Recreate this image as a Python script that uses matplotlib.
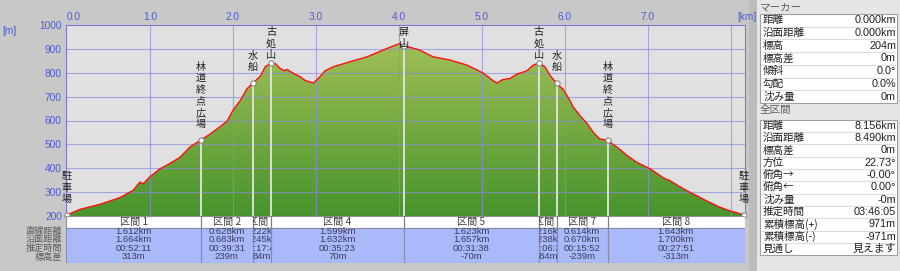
import numpy as np
import matplotlib
matplotlib.use("Agg")
import matplotlib.pyplot as plt
from matplotlib.colors import LinearSegmentedColormap
from matplotlib.patches import Rectangle
from matplotlib.transforms import Bbox, TransformedBbox

JP = ["Noto Sans CJK JP", "DejaVu Sans"]
NUM = ["Liberation Sans", "DejaVu Sans"]
BLUE = "#4b5bd6"

# elevation profile (horizontal distance km, elevation m)
dist_km = [0.00, 0.16, 0.40, 0.64, 0.80, 0.88, 0.92, 1.00, 1.12, 1.24, 1.36, 1.48,
           1.61, 1.73, 1.85, 1.93, 2.00, 2.09, 2.17, 2.24, 2.33, 2.39, 2.46, 2.51,
           2.57, 2.62, 2.65, 2.73, 2.81, 2.87, 2.97, 3.03, 3.11, 3.21, 3.41, 3.62,
           3.81, 3.93, 4.01, 4.06, 4.13, 4.25, 4.41, 4.62, 4.82, 5.01, 5.13, 5.18,
           5.25, 5.34, 5.42, 5.54, 5.62, 5.68, 5.76, 5.82, 5.90, 5.98, 6.06, 6.10,
           6.18, 6.27, 6.34, 6.42, 6.51, 6.63, 6.75, 6.87, 7.03, 7.19, 7.27, 7.42,
           7.63, 7.83, 7.99, 8.07, 8.16]
elev_m = [204, 228, 249, 277, 308, 342, 335, 364, 397, 420, 445, 488,
          517, 544, 575, 597, 642, 684, 733, 756, 785, 825, 840, 839,
          818, 808, 814, 797, 783, 768, 757, 776, 808, 825, 846, 867,
          895, 912, 922, 912, 907, 895, 867, 853, 832, 800, 768, 757,
          771, 776, 794, 808, 832, 840, 825, 789, 756, 730, 684, 656,
          621, 586, 551, 523, 517, 488, 453, 424, 397, 359, 347, 315,
          277, 242, 221, 214, 204]

# waypoints
point_names = ["駐車場", "林道終点広場", "水船", "古処山", "屏山", "古処山", "水船", "林道終点広場", "駐車場"]
point_elev = [204, 517, 756, 840, 910, 840, 756, 517, 204]

# sections
seg_labels = ["区間 1", "区間 2", "区間 3", "区間 4", "区間 5", "区間 6", "区間 7", "区間 8"]
seg_straight = [1.612, 0.628, 0.222, 1.599, 1.623, 0.216, 0.614, 1.643]
seg_surface = [1.664, 0.683, 0.245, 1.632, 1.657, 0.238, 0.670, 1.700]
seg_time = ["00:52:11", "00:39:31", "00:17:44", "00:35:23", "00:31:38", "00:06:35", "00:15:52", "00:27:51"]
seg_climb = [313, 239, 84, 70, -70, -84, -239, -313]
row_names = ["直線距離", "沿面距離", "推定時間", "標高差"]

# side panel
marker_labels = ["距離", "沿面距離", "標高", "標高差", "傾斜", "勾配", "沈み量"]
marker_values = ["0.000km", "0.000km", "204m", "0m", "0.0°", "0.0%", "0m"]
total_labels = ["距離", "沿面距離", "標高差", "方位", "俯角→", "俯角←", "沈み量",
                "推定時間", "累積標高(+)", "累積標高(-)", "見通し"]
total_values = ["8.156km", "8.490km", "0m", "22.73°", "-0.00°", "0.00°", "-0m",
                "03:46:05", "971m", "-971m", "見えます"]

W, H = 900, 271


def frac(l, t, r, b):
    return [l / W, 1 - b / H, (r - l) / W, (b - t) / H]


fig = plt.figure(figsize=(9, 2.71), dpi=100, facecolor="#c8c8c8")

# ---- main profile axes
ax = fig.add_axes(frac(66, 25, 745, 216))
xmin, xmax = -0.01, 8.17
ax.set_facecolor("#e0e0e0")

cmap = LinearSegmentedColormap.from_list("g", ["#48942c", "#a8c35a"])
grad = np.linspace(0, 1, 256).reshape(-1, 1)
im = ax.imshow(grad, extent=[xmin, xmax, 200, 1000], origin="lower", cmap=cmap,
               aspect="auto", zorder=1)
poly = ax.fill_between(dist_km, elev_m, 200, facecolor="none", edgecolor="none")
im.set_clip_path(poly.get_paths()[0], transform=ax.transData)

ax.set_xlim(xmin, xmax)
ax.set_ylim(200, 1000)

for v in range(1, 9):
    ax.axvline(v, color="#8c8ce0", lw=0.8, alpha=0.7, zorder=2)
for v in range(300, 1000, 100):
    ax.axhline(v, color="#8c8ce0", lw=0.8, alpha=0.7, zorder=2)

point_km = np.concatenate([[0], np.cumsum(seg_straight)])
ax.vlines(point_km, 200, point_elev, color="#e4e4e4", lw=1.3, zorder=3)
ax.plot(dist_km, elev_m, color="#ff1010", lw=1.0, zorder=4)
ax.plot(point_km, point_elev, "o", ms=3.8, mfc="white", mec="#7a7a7a", mew=0.7,
        zorder=6, clip_on=False)

m_per_px = 800 / 191
for km, el, name in zip(point_km, point_elev, point_names):
    n = len(name)
    bottom = el + 16 * m_per_px
    top = bottom + (n - 1) * 11.5 * m_per_px
    limit = 1000 - 7 * m_per_px
    if top > limit:
        bottom -= top - limit
    for i, ch in enumerate(reversed(name)):
        ax.text(km, bottom + i * 11.5 * m_per_px, ch, ha="center", va="center",
                fontsize=7.3, family=JP, color="#202020", zorder=7, clip_on=False)

ax.xaxis.tick_top()
ax.set_xticks(range(8))
ax.set_xticklabels([f"{v:.1f}" for v in range(8)])
ax.set_yticks(range(200, 1001, 100))
ax.tick_params(length=0, labelsize=7.3, labelcolor=BLUE, pad=2.5)
ax.tick_params(axis="y", pad=3)
for lab in ax.get_xticklabels() + ax.get_yticklabels():
    lab.set_family(NUM)
ax.get_xticklabels()[0].set_ha("left")
for s in ax.spines.values():
    s.set_color("#7b7bd0")
    s.set_linewidth(0.8)

# ---- section table
tab = fig.add_axes(frac(66, 216, 745, 263))
tab.set_xlim(xmin, xmax)
tab.set_ylim(47, 0)
tab.axis("off")
tab.add_patch(Rectangle((xmin, 0), xmax - xmin, 12, fc="white", ec="#909090", lw=0.8))
tab.add_patch(Rectangle((xmin, 12), xmax - xmin, 35, fc="#a9b9fa", ec="#8a8ab0", lw=0.8))
tab.vlines(point_km[1:-1], 0, 12, color="#808080", lw=0.9)
tab.vlines(point_km[1:-1], 12, 47, color="#8a8ab0", lw=0.9)

for i in range(len(seg_labels)):
    a, b = point_km[i], point_km[i + 1]
    box = TransformedBbox(Bbox([[a, 0], [b, 47]]), tab.transData)
    mid = (a + b) / 2
    t = tab.text(mid, 5.5, seg_labels[i], ha="center", va="center", fontsize=7.3,
                 family=JP, color="#404040", clip_on=True)
    t.set_clip_box(box)
    vals = [f"{seg_straight[i]:.3f}km", f"{seg_surface[i]:.3f}km", seg_time[i],
            f"{seg_climb[i]}m"]
    for r, v in enumerate(vals):
        t = tab.text(mid, 15.5 + r * 8.4, v, ha="center", va="center", fontsize=6.8,
                     family=NUM, color="#3c3c5c", clip_on=True)
        t.set_clip_box(box)

# ---- overlay for labels and side panel (pixel coords)
ov = fig.add_axes([0, 0, 1, 1])
ov.set_xlim(0, W)
ov.set_ylim(H, 0)
ov.axis("off")
ov.set_zorder(-1)

for r, name in enumerate(row_names):
    ov.text(62, 231.5 + r * 8.4, name, ha="right", va="center", fontsize=6.6,
            family=JP, color="#5a5a5a")
ov.text(2, 31, "[m]", ha="left", va="center", fontsize=7.3, family=NUM, color=BLUE)

ov.add_patch(Rectangle((749, 0), 8, H, fc="#bcbcbc", ec="none"))
ov.add_patch(Rectangle((757, 0), W - 757, H, fc="#e6e6e6", ec="none"))
ov.text(737, 16.5, "[km]", ha="left", va="center", fontsize=7.3, family=NUM,
        color=BLUE, zorder=5)


def side_box(top, rh, labels, values):
    n = len(labels)
    ov.add_patch(Rectangle((760, top), 137, rh * n, fc="white", ec="#a0a0a0", lw=0.8))
    for k in range(1, n):
        ov.plot([762, 895], [top + k * rh, top + k * rh], color="#dcdcdc", lw=0.8)
    for k, (lb, vl) in enumerate(zip(labels, values)):
        y = top + rh * (k + 0.5)
        ov.text(763, y, lb, ha="left", va="center", fontsize=7.6, family=JP, color="#202020")
        fam = JP if vl == "見えます" else NUM
        ov.text(896, y, vl, ha="right", va="center", fontsize=7.8, family=fam, color="#202020")


ov.text(760, 7, "マーカー", ha="left", va="center", fontsize=7.6, family=JP, color="#606060")
side_box(14, 12.7, marker_labels, marker_values)
ov.text(760, 109.5, "全区間", ha="left", va="center", fontsize=7.6, family=JP, color="#606060")
side_box(119.5, 12.35, total_labels, total_values)

fig.savefig("out.png", dpi=100, facecolor=fig.get_facecolor())
